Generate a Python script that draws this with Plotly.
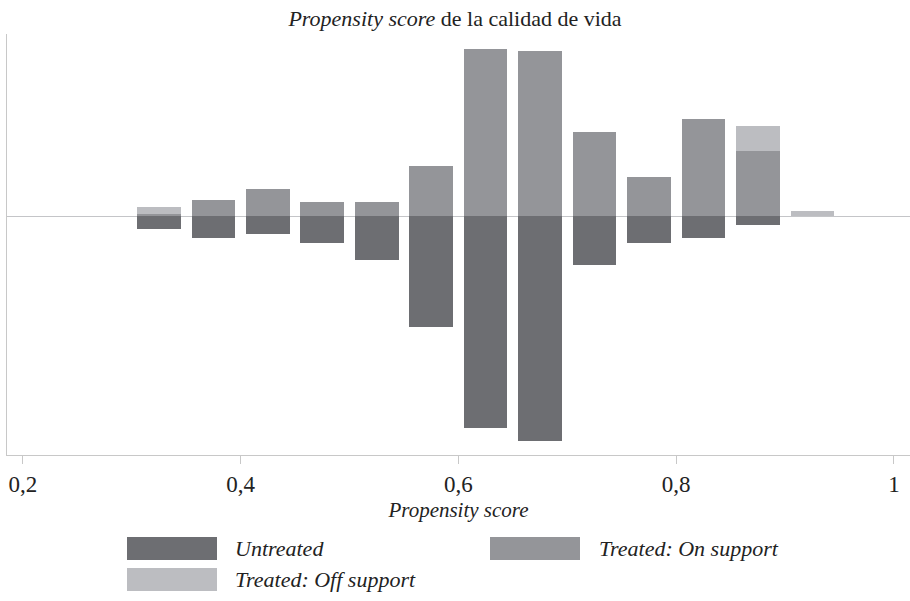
import plotly.graph_objects as go

# ---- data (bar heights in relative units) ----
bin_centers = [0.325, 0.375, 0.425, 0.475, 0.525, 0.575, 0.625, 0.675,
               0.725, 0.775, 0.825, 0.875, 0.925]
untreated = [12.7, 21.7, 17.7, 26.7, 43.7, 111, 212, 225, 49, 26.7, 21.7, 9, 0]
treated_on = [2.3, 16, 27, 14, 14, 50, 167, 165, 84, 39, 97, 65, 0]
treated_off = [7, 0, 0, 0, 0, 0, 0, 0, 0, 0, 0, 25, 5]
tick_vals = [0.2, 0.4, 0.6, 0.8, 1.0]
tick_text = ["0,2", "0,4", "0,6", "0,8", "1"]
legend_labels = ["Untreated", "Treated: On support", "Treated: Off support"]

C_UN = "#6d6e72"
C_ON = "#949599"
C_OFF = "#bcbdc1"
FONT = "Liberation Serif"

W, H = 910, 601
ML, MR, MT, MB = 7, 0, 34, 146
PW, PH = W - ML - MR, H - MT - MB

def px(x):
    return (x - ML) / PW

def py(y):
    return (H - MB - y) / PH

fig = go.Figure()
fig.add_trace(go.Bar(x=bin_centers, y=[-v for v in untreated], width=0.04,
                     marker=dict(color=C_UN, line=dict(width=0)), name=legend_labels[0]))
fig.add_trace(go.Bar(x=bin_centers, y=treated_on, width=0.04,
                     marker=dict(color=C_ON, line=dict(width=0)), name=legend_labels[1]))
fig.add_trace(go.Bar(x=bin_centers, y=treated_off, width=0.04,
                     marker=dict(color=C_OFF, line=dict(width=0)), name=legend_labels[2]))

# custom legend (large swatches)
legend_items = [
    (127, 217, 537, 560, C_UN, legend_labels[0], 233),
    (490, 580, 537, 560, C_ON, legend_labels[1], 597),
    (127, 217, 568, 591, C_OFF, legend_labels[2], 233),
]
for x0, x1, y0, y1, col, lab, tx in legend_items:
    fig.add_shape(type="rect", xref="paper", yref="paper",
                  x0=px(x0), x1=px(x1), y0=py(y1), y1=py(y0),
                  fillcolor=col, line=dict(width=0))
    fig.add_annotation(xref="paper", yref="paper", x=px(tx), y=py((y0 + y1) / 2),
                       text="<i>" + lab + "</i>", showarrow=False,
                       xanchor="left", yanchor="middle",
                       font=dict(family=FONT, size=22, color="#222"))

fig.update_layout(
    width=W, height=H,
    margin=dict(l=ML, r=MR, t=MT, b=MB),
    barmode="relative",
    bargap=0,
    showlegend=False,
    plot_bgcolor="white", paper_bgcolor="white",
    title=dict(text="<i>Propensity score</i> de la calidad de vida",
               x=0.5, xanchor="center", y=1 - 18 / H, yanchor="middle",
               font=dict(family=FONT, size=22, color="#222")),
    font=dict(family=FONT, size=21, color="#222"),
    xaxis=dict(range=[0.1855, 1.0147], tickvals=tick_vals, ticktext=tick_text,
               ticks="outside", ticklen=8, tickcolor="#c8c8c8", tickwidth=1,
               showline=True, linecolor="#c8c8c8", linewidth=1,
               showgrid=False, zeroline=False,
               title=dict(text="<i>Propensity score</i>", standoff=6,
                          font=dict(family=FONT, size=21, color="#222")),
               tickfont=dict(family=FONT, size=23, color="#222")),
    yaxis=dict(range=[-239, 182], showticklabels=False, ticks="",
               showline=True, linecolor="#c8c8c8", linewidth=1,
               showgrid=False, zeroline=True, zerolinecolor="#c4c5c8", zerolinewidth=1),
)

fig.write_html("out.html", config={"displayModeBar": False},
               post_script="document.body.style.margin='0';document.body.style.padding='0';")
